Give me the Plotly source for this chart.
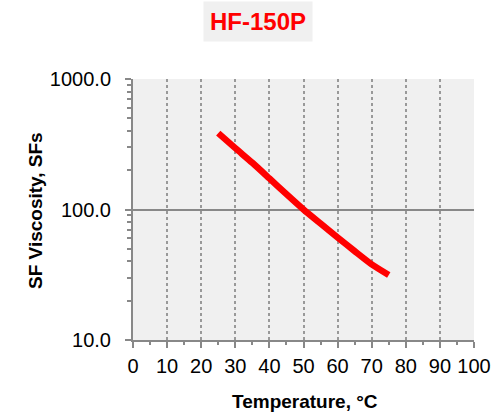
import plotly.graph_objects as go

temps = [25, 30, 35, 40, 45, 50, 55, 60, 65, 70, 75]
viscosity = [385, 295, 228, 173, 131, 100, 78, 61, 48, 38, 31.5]
x_ticks = [0, 10, 20, 30, 40, 50, 60, 70, 80, 90, 100]
y_ticks = [10, 100, 1000]
y_tick_text = ["10.0", "100.0", "1000.0"]

fig = go.Figure()
fig.add_trace(go.Scatter(x=temps, y=viscosity, mode="lines",
                         line=dict(color="#ff0000", width=6.5, shape="spline", smoothing=0.6),
                         showlegend=False, hoverinfo="skip"))

font = "Liberation Sans, Arial, sans-serif"
PL, PR, PT, PB = 133, 474, 79, 340
W, H = 494, 415
pw, ph = PR - PL, PB - PT

fig.update_layout(
    width=W, height=H,
    margin=dict(l=PL, r=W - PR, t=PT, b=H - PB, autoexpand=False),
    paper_bgcolor="white",
    plot_bgcolor="#f0f0f0",
    font=dict(family=font, size=20, color="black"),
    annotations=[
        dict(text="<b>HF-150P</b>", xref="paper", yref="paper",
             x=(258 - PL) / pw, y=1 + (PT - 22) / ph, xanchor="center", yanchor="middle",
             showarrow=False, font=dict(size=24, color="#ff0000", family=font),
             bgcolor="#f0f0f0", borderpad=6),
        dict(text="<b>Temperature, °C</b>", xref="paper", yref="paper",
             x=(305 - PL) / pw, y=-(401 - PB) / ph, xanchor="center", yanchor="middle",
             showarrow=False, font=dict(size=19, color="black", family=font)),
        dict(text="<b>SF Viscosity, SFs</b>", xref="paper", yref="paper",
             x=-(PL - 35) / pw, y=(PB - 210) / ph, xanchor="center", yanchor="middle",
             textangle=-90,
             showarrow=False, font=dict(size=19, color="black", family=font)),
    ],
)
fig.update_xaxes(
    range=[0, 100], tickvals=x_ticks, ticks="outside", ticklen=6, tickcolor="#888888",
    tickwidth=2, showline=True, linecolor="#888888", linewidth=2,
    showgrid=True, gridcolor="#999999", griddash="dot", gridwidth=1.5,
    minor=dict(dtick=5, ticks="outside", ticklen=3, tickcolor="#888888", showgrid=False),
    ticklabelstandoff=1, automargin=False,
    zeroline=False, mirror=False,
)
fig.update_yaxes(
    type="log", range=[1, 3], tickvals=y_ticks, ticktext=y_tick_text,
    ticks="outside", ticklen=6, tickcolor="#888888", tickwidth=2,
    showline=True, linecolor="#888888", linewidth=2,
    showgrid=True, gridcolor="#888888", gridwidth=2,
    minor=dict(dtick="D1", ticks="outside", ticklen=4, tickcolor="#888888", showgrid=False),
    ticklabelstandoff=10, automargin=False,
)
fig.write_html("out.html", config={"displayModeBar": False},
               post_script="document.body.style.margin='0';document.body.style.overflow='hidden';")
